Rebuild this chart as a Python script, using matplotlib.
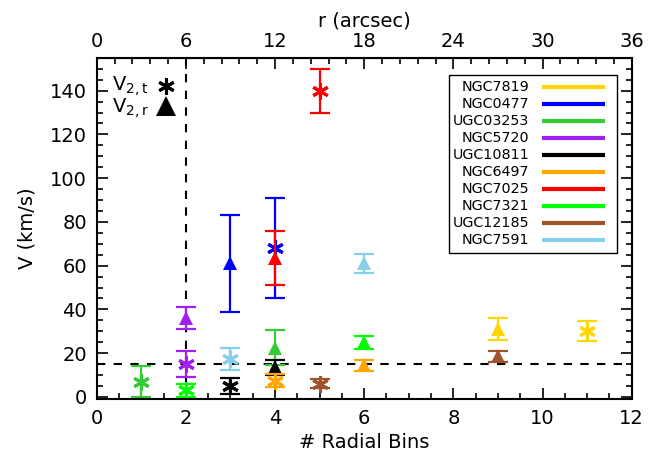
import matplotlib
matplotlib.use("Agg")
import matplotlib.pyplot as plt
from matplotlib.ticker import MultipleLocator, FixedLocator
from matplotlib.patches import Rectangle

# Galaxies, in legend order, and their colours
galaxies = ["NGC7819", "NGC0477", "UGC03253", "NGC5720", "UGC10811",
            "NGC6497", "NGC7025", "NGC7321", "UGC12185", "NGC7591"]
colors = ["#FFD700", "#0000FF", "#33CC33", "#A020F0", "#000000",
          "#FFA500", "#FF0000", "#00FF00", "#A0522D", "#87CEEB"]

# V2,t (asterisks): number of radial bins, velocity, error (same order as galaxies)
vt_bins = [11, 4, 1, 2, 3, 4, 5, 2, 5, 3]
vt_vals = [30, 68, 7, 15, 5, 7.5, 140, 3, 6, 17.5]
vt_errs = [4.5, 23, 7, 6, 3.5, 3, 10, 3, 2, 5]

# V2,r (triangles)
vr_bins = [9, 3, 4, 2, 4, 6, 4, 6, 9, 6]
vr_vals = [31, 61, 22.5, 36, 13.5, 14.5, 63.5, 25, 18.5, 61]
vr_errs = [5, 22, 8, 5, 3.5, 2.5, 12.5, 3, 2.5, 4.5]

v_threshold = 15
bin_limit = 2
arcsec_per_bin = 3
r_ticks = [0, 6, 12, 18, 24, 30, 36]

plt.rcParams["font.family"] = "DejaVu Sans"
fig = plt.figure(figsize=(6.58, 4.63), dpi=100)
ax = fig.add_axes([0.147, 0.138, 0.813, 0.737])

star = (6, 2, 0)
for i, name in enumerate(galaxies):
    c = colors[i]
    ax.errorbar(vt_bins[i], vt_vals[i], yerr=vt_errs[i], fmt="none",
                ecolor=c, elinewidth=1.6, capsize=7, capthick=1.6)
    ax.plot(vt_bins[i], vt_vals[i], marker=star, ms=12, mew=2.2,
            color=c, ls="none")
    ax.errorbar(vr_bins[i], vr_vals[i], yerr=vr_errs[i], fmt="none",
                ecolor=c, elinewidth=1.6, capsize=7, capthick=1.6)
    ax.plot(vr_bins[i], vr_vals[i], marker="^", ms=10, mew=0,
            color=c, ls="none")

ax.axhline(v_threshold, color="black", ls=(0, (4, 4)), lw=1.5, zorder=0)
ax.axvline(bin_limit, color="black", ls=(0, (4, 4)), lw=1.5, zorder=0)

ax.set_xlim(0, 12)
ax.set_ylim(-1, 155)
ax.xaxis.set_major_locator(MultipleLocator(2))
ax.xaxis.set_minor_locator(MultipleLocator(0.5))
ax.yaxis.set_minor_locator(MultipleLocator(5))
ax.set_yticks([0, 20, 40, 60, 80, 100, 120, 140])
ax.tick_params(which="both", direction="in", right=True, labelsize=14,
               width=1.2, pad=7)
ax.tick_params(axis="x", which="both", top=False)
ax.tick_params(which="major", length=8)
ax.tick_params(which="minor", length=4)
for s in ax.spines.values():
    s.set_linewidth(1.5)

ax.set_xlabel("# Radial Bins", fontsize=14, labelpad=4)
ax.set_ylabel("V (km/s)", fontsize=14, labelpad=10)

top = ax.secondary_xaxis("top", functions=(lambda x: x * arcsec_per_bin,
                                           lambda r: r / arcsec_per_bin))
top.xaxis.set_major_locator(FixedLocator(r_ticks))
top.xaxis.set_minor_locator(MultipleLocator(1.2))
top.tick_params(which="both", direction="in", labelsize=14, width=1.2, pad=5)
top.tick_params(which="major", length=8)
top.tick_params(which="minor", length=4)
top.set_xlabel("r (arcsec)", fontsize=14, labelpad=4)

# symbol key
ax.text(0.097, 0.918, r"V$_{2,\mathrm{t}}$", transform=ax.transAxes,
        ha="right", va="center", fontsize=14)
ax.plot(0.129, 0.918, marker=star, ms=12, mew=2.2, color="black",
        transform=ax.transAxes)
ax.text(0.097, 0.853, r"V$_{2,\mathrm{r}}$", transform=ax.transAxes,
        ha="right", va="center", fontsize=14)
ax.plot(0.129, 0.858, marker="^", ms=15, mew=0, color="black",
        transform=ax.transAxes)

# galaxy legend
ax.add_patch(Rectangle((0.658, 0.428), 0.314, 0.522, transform=ax.transAxes,
                       fill=True, facecolor="white", edgecolor="black",
                       lw=1.0, zorder=5))
for i, name in enumerate(galaxies):
    y = 0.915 - i * 0.0499
    ax.text(0.809, y, name, transform=ax.transAxes, ha="right", va="center",
            fontsize=10.3, zorder=6)
    ax.plot([0.832, 0.951], [y, y], color=colors[i], lw=3,
            transform=ax.transAxes, zorder=6, solid_capstyle="butt")

fig.savefig("out.png", dpi=100)
